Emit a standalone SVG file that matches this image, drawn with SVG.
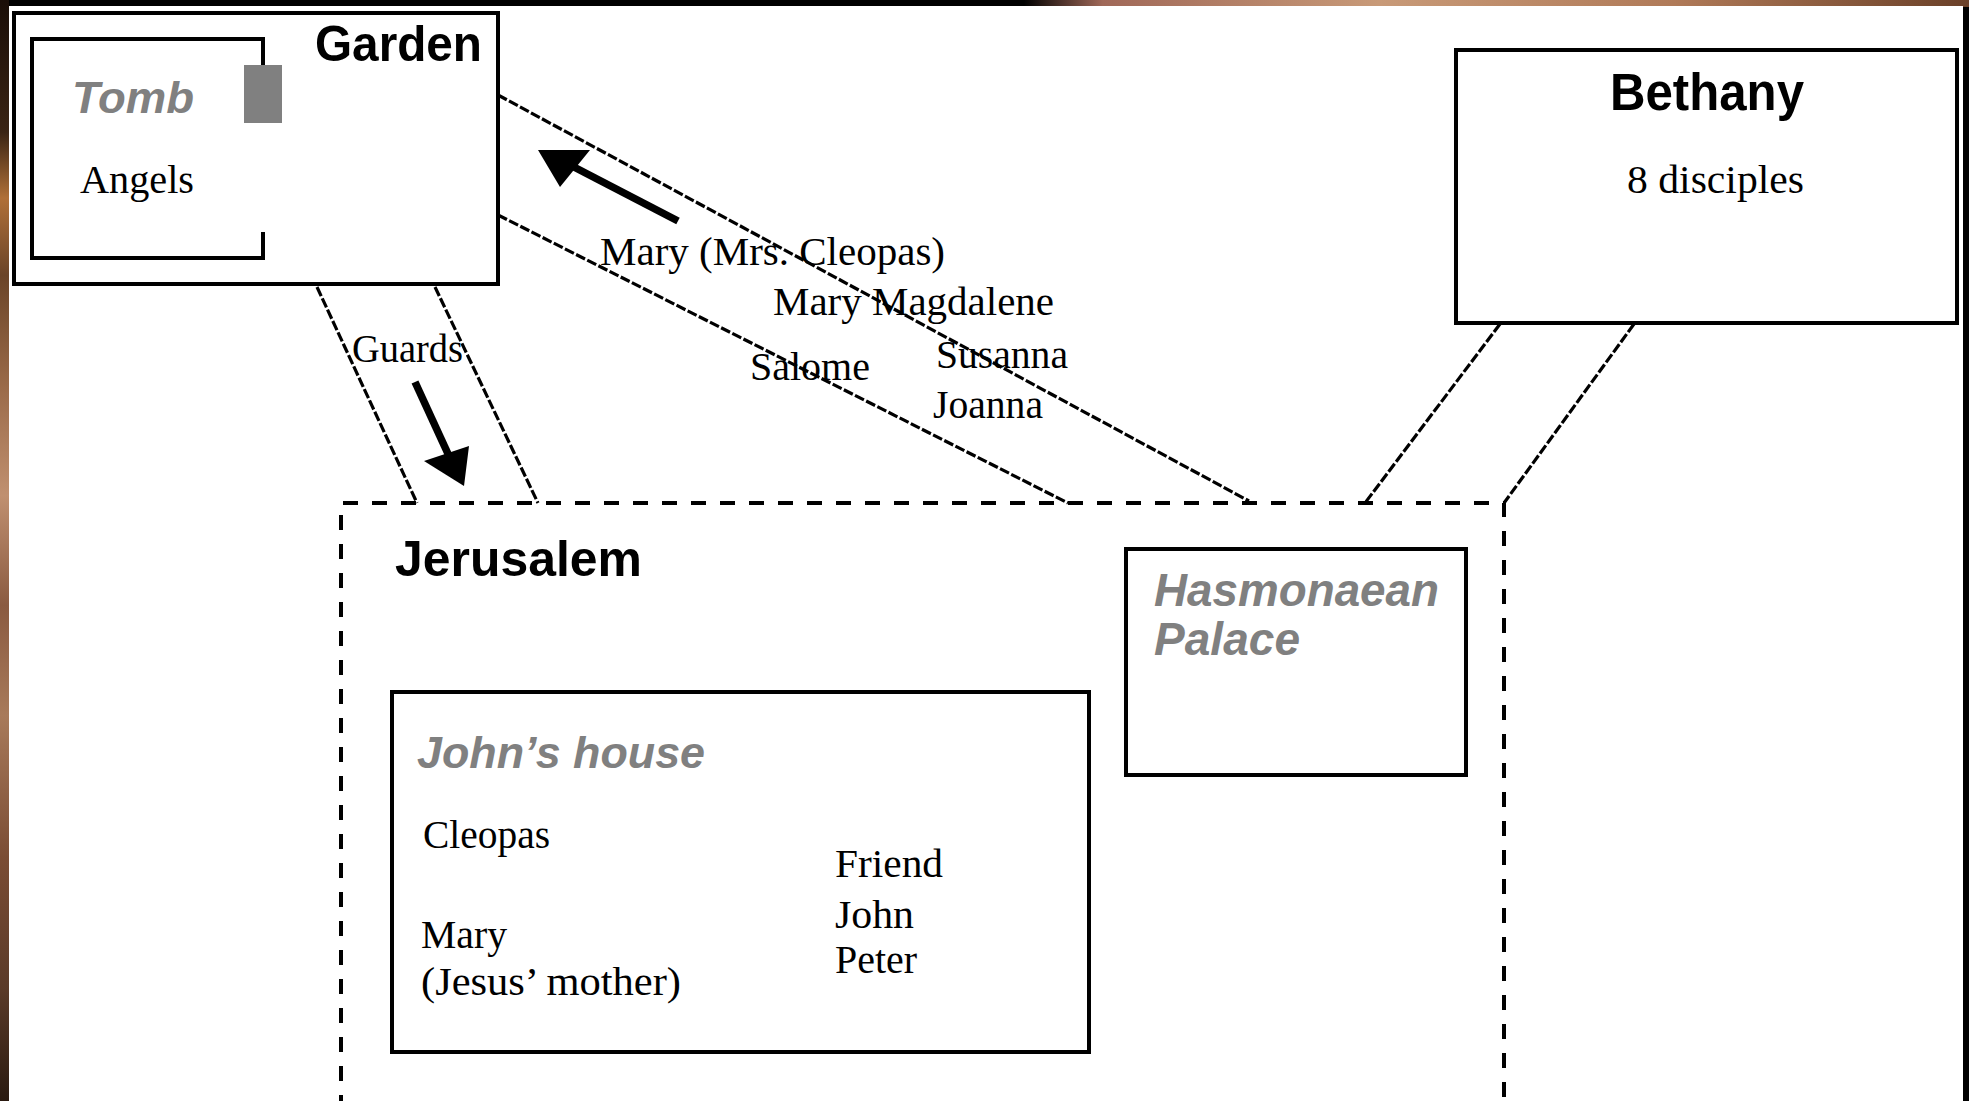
<svg xmlns="http://www.w3.org/2000/svg" width="1969" height="1101" viewBox="0 0 1969 1101">
  <defs>
    <linearGradient id="leftEdge" x1="0" y1="0" x2="0" y2="1">
      <stop offset="0" stop-color="#1a0e08"/>
      <stop offset="0.12" stop-color="#3a2414"/>
      <stop offset="0.18" stop-color="#b07038"/>
      <stop offset="0.25" stop-color="#6a4428"/>
      <stop offset="0.35" stop-color="#9a6a48"/>
      <stop offset="0.45" stop-color="#c09070"/>
      <stop offset="0.55" stop-color="#8a5a40"/>
      <stop offset="0.65" stop-color="#a87a5a"/>
      <stop offset="0.78" stop-color="#7a4c34"/>
      <stop offset="0.9" stop-color="#5a3a28"/>
      <stop offset="1" stop-color="#2a1a10"/>
    </linearGradient>
    <linearGradient id="topEdge" x1="0" y1="0" x2="1" y2="0">
      <stop offset="0" stop-color="#000000"/>
      <stop offset="0.52" stop-color="#000000"/>
      <stop offset="0.56" stop-color="#a06858"/>
      <stop offset="0.7" stop-color="#c89a78"/>
      <stop offset="0.85" stop-color="#b07a58"/>
      <stop offset="1" stop-color="#6a4028"/>
    </linearGradient>
    <style>
      .box { fill: #ffffff; stroke: #000000; stroke-width: 4; }
      .open { fill: none; stroke: #000000; stroke-width: 4; }
      .region { fill: none; stroke: #000000; stroke-width: 4; stroke-dasharray: 15 14; }
      .path { fill: none; stroke: #000000; stroke-width: 3.2; stroke-dasharray: 10 2.5; }
      .shaft { fill: none; stroke: #000000; stroke-width: 7.5; }
      .head { fill: #000000; }
      .title { font-family: "Liberation Sans", Arial, sans-serif; font-weight: bold; fill: #000000; }
      .place { font-family: "Liberation Sans", Arial, sans-serif; font-weight: bold; font-style: italic; fill: #808080; }
      .name { font-family: "Liberation Serif", "Times New Roman", serif; font-size: 40px; fill: #000000; }
    </style>
  </defs>

  <!-- frame -->
  <rect x="0" y="0" width="1969" height="1101" fill="#000000"/>
  <rect x="0" y="0" width="1969" height="7" fill="url(#topEdge)"/>
  <rect x="0" y="0" width="9" height="1101" fill="url(#leftEdge)"/>
  <rect x="9" y="6" width="1954" height="1095" fill="#ffffff"/>

  <!-- connectors -->
  <g id="connectors">
    <line class="path" x1="317" y1="287" x2="417" y2="503"/>
    <line class="path" x1="435" y1="287" x2="538" y2="503"/>
    <line class="path" x1="498" y1="95" x2="1249" y2="501"/>
    <line class="path" x1="498" y1="215" x2="1068" y2="503"/>
    <line class="path" x1="1500" y1="324" x2="1365" y2="503"/>
    <line class="path" x1="1634" y1="324" x2="1504" y2="503"/>
    <!-- women returning to garden -->
    <line class="shaft" x1="678" y1="221" x2="572" y2="166"/>
    <polygon class="head" points="538,150 590,150 560,187"/>
    <!-- guards going to Jerusalem -->
    <line class="shaft" x1="415" y1="382" x2="449" y2="456"/>
    <polygon class="head" points="464,486 424,461 469,446"/>
  </g>

  <g id="connector-labels">
    <text class="name" x="352" y="362" textLength="111" lengthAdjust="spacingAndGlyphs">Guards</text>
    <text class="name" x="600" y="265" textLength="345" lengthAdjust="spacingAndGlyphs">Mary (Mrs. Cleopas)</text>
    <text class="name" x="773" y="315" textLength="281" lengthAdjust="spacingAndGlyphs">Mary Magdalene</text>
    <text class="name" x="750" y="380" textLength="120" lengthAdjust="spacingAndGlyphs">Salome</text>
    <text class="name" x="936" y="368" textLength="132" lengthAdjust="spacingAndGlyphs">Susanna</text>
    <text class="name" x="933" y="418" textLength="110" lengthAdjust="spacingAndGlyphs">Joanna</text>
  </g>

  <!-- Garden -->
  <g id="garden">
    <rect class="box" x="14" y="13" width="484" height="271"/>
    <text class="title" x="315" y="61" font-size="50" textLength="167" lengthAdjust="spacingAndGlyphs">Garden</text>
  </g>

  <!-- Tomb -->
  <g id="tomb">
    <path class="open" d="M263,65 V39 H32 V258 H263 V232"/>
    <rect x="244" y="65" width="38" height="58" fill="#808080"/>
    <text class="place" x="72" y="113" font-size="44" textLength="122" lengthAdjust="spacingAndGlyphs">Tomb</text>
    <text class="name" x="80" y="193" font-size="38" textLength="114" lengthAdjust="spacingAndGlyphs">Angels</text>
  </g>

  <!-- Bethany -->
  <g id="bethany">
    <rect class="box" x="1456" y="50" width="501" height="273"/>
    <text class="title" x="1610" y="110" font-size="51" textLength="194" lengthAdjust="spacingAndGlyphs">Bethany</text>
    <text class="name" x="1627" y="193" textLength="177" lengthAdjust="spacingAndGlyphs">8 disciples</text>
  </g>

  <!-- Jerusalem -->
  <g id="jerusalem">
    <path class="region" d="M341,1110 V503 H1504 V1110"/>
    <text class="title" x="395" y="576" font-size="50" textLength="247" lengthAdjust="spacingAndGlyphs">Jerusalem</text>
  </g>

  <!-- Hasmonaean Palace -->
  <g id="hasmonaean-palace">
    <rect class="box" x="1126" y="549" width="340" height="226"/>
    <text class="place" x="1154" y="606" font-size="46" textLength="285" lengthAdjust="spacingAndGlyphs">Hasmonaean</text>
    <text class="place" x="1154" y="655" font-size="46" textLength="146" lengthAdjust="spacingAndGlyphs">Palace</text>
  </g>

  <!-- John's house -->
  <g id="johns-house">
    <rect class="box" x="392" y="692" width="697" height="360"/>
    <text class="place" x="417" y="768" font-size="44" textLength="288" lengthAdjust="spacingAndGlyphs">John’s house</text>
    <text class="name" x="423" y="848" textLength="127" lengthAdjust="spacingAndGlyphs">Cleopas</text>
    <text class="name" x="421" y="948" textLength="86" lengthAdjust="spacingAndGlyphs">Mary</text>
    <text class="name" x="421" y="995" textLength="260" lengthAdjust="spacingAndGlyphs">(Jesus’ mother)</text>
    <text class="name" x="835" y="877" textLength="108" lengthAdjust="spacingAndGlyphs">Friend</text>
    <text class="name" x="835" y="928" textLength="79" lengthAdjust="spacingAndGlyphs">John</text>
    <text class="name" x="835" y="973" textLength="82" lengthAdjust="spacingAndGlyphs">Peter</text>
  </g>
</svg>
